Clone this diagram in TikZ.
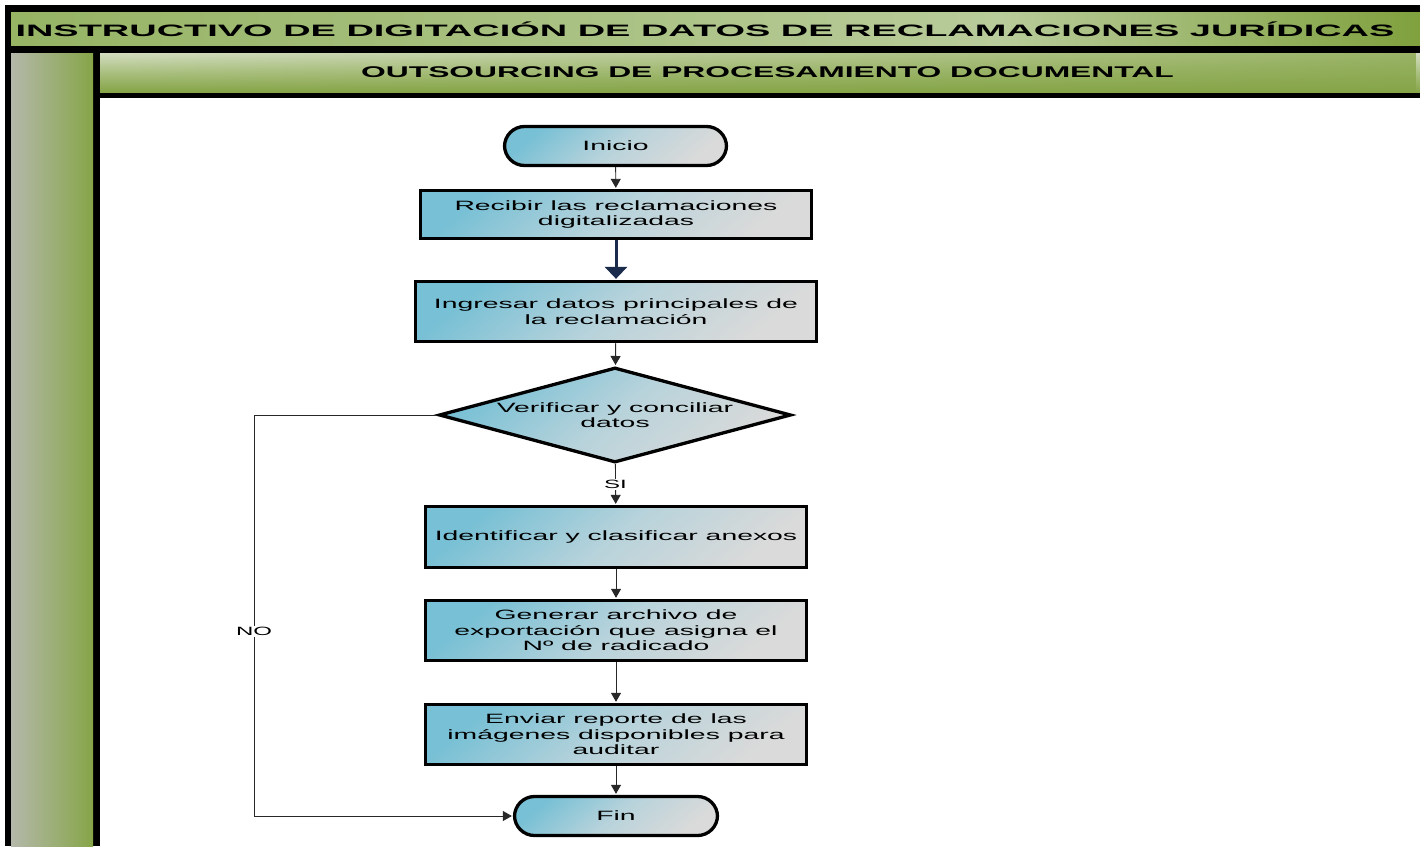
\documentclass[tikz,border=0pt]{standalone}
\usepackage{fontspec}
\setmainfont{Liberation Sans}
\newfontfamily\bodyf[FakeStretch=2.1]{Liberation Sans}
\newfontfamily\titlef[FakeStretch=2.3]{Liberation Sans}
\newfontfamily\subf[FakeStretch=2.05]{Liberation Sans}
\newfontfamily\lblf[FakeStretch=2.0]{Liberation Sans}
\usetikzlibrary{shapes.geometric,arrows.meta,calc,fadings}
\definecolor{gMain}{RGB}{134,165,72}
\definecolor{gTitleL}{RGB}{150,180,100}
\definecolor{gTitleM}{RGB}{184,203,154}
\definecolor{gTitleR}{RGB}{128,161,62}
\definecolor{gSubL}{RGB}{212,221,193}
\definecolor{gSubM}{RGB}{170,192,128}
\definecolor{gCol}{RGB}{180,184,170}
\definecolor{bluC}{RGB}{120,192,213}
\definecolor{bluM}{RGB}{184,211,219}
\definecolor{greyC}{RGB}{218,218,218}
\definecolor{navy}{RGB}{26,43,76}
\definecolor{lineC}{RGB}{40,40,40}
\tikzset{
  procbox/.style={draw=black, line width=3.3pt, top color=bluC, bottom color=greyC, shading angle=40, middle color=bluM,
    inner sep=0pt, align=center, font=\bodyf\fontsize{13.5}{15.5}\selectfont},
  termbox/.style={procbox, rounded corners=20pt},
  decbox/.style={draw=black, line width=3.3pt, diamond, shape aspect=3.7, top color=bluC, bottom color=greyC, shading angle=40, middle color=bluM,
    inner sep=0pt, align=center, font=\bodyf\fontsize{13.5}{15.5}\selectfont},
  conn/.style={draw=lineC, line width=0.9pt, -{Triangle[width=10pt,length=9pt]}, shorten >=1pt},
  bigconn/.style={draw=navy, line width=3pt, -{Triangle[width=22pt,length=12pt]}, shorten >=1pt},
  lbl/.style={fill=white, inner sep=1.5pt, font=\lblf\fontsize{12}{13}\selectfont},
}
\begin{document}
\begin{tikzpicture}[x=1pt,y=-1pt]
\useasboundingbox (0,0) rectangle (1420,846);
\fill[white] (0,0) rectangle (1420,846);
% frame
\fill[black] (5,5) rectangle (1420,846);
\shade[left color=gTitleL, right color=gTitleM] (11,12) rectangle (1000,45);
\shade[left color=gTitleM, right color=gTitleR] (999.5,12) rectangle (1420,45);
\shade[left color=gCol, right color=gMain] (11,53) rectangle (93,846);
\shade[top color=gSubL, bottom color=gMain, middle color=gSubM] (100,53) rectangle (1420,92);
\fill[gMain, fill opacity=0.75, path fading=west] (100,53) rectangle (1420,92);
\fill[white] (100,98) rectangle (1420,846);
\node[font=\titlef\bfseries\fontsize{16.5}{18}\selectfont, inner sep=0pt] (title) at (705,29) {INSTRUCTIVO DE DIGITACIÓN DE DATOS DE RECLAMACIONES JURÍDICAS};
\node[font=\subf\bfseries\fontsize{15.5}{17}\selectfont, inner sep=0pt] (subtitle) at (767.5,72) {OUTSOURCING DE PROCESAMIENTO DOCUMENTAL};
% nodes
\node[termbox, minimum width=222pt, minimum height=39pt] (inicio) at (615.5,146) {Inicio};
\node[procbox, minimum width=391pt, minimum height=48pt] (recibir) at (616,214.5) {Recibir las reclamaciones\\digitalizadas};
\node[procbox, minimum width=401pt, minimum height=60pt] (ingresar) at (616,311.5) {Ingresar datos principales de\\la reclamación};
\node[decbox, minimum width=352pt, minimum height=95pt] (verif) at (615,415) {Verificar y conciliar\\datos};
\node[procbox, minimum width=381pt, minimum height=61pt] (ident) at (616,537) {Identificar y clasificar anexos};
\node[procbox, minimum width=381pt, minimum height=60pt] (gen) at (616,630.5) {Generar archivo de\\exportación que asigna el\\Nº de radicado};
\node[procbox, minimum width=381pt, minimum height=60pt] (env) at (616,734.5) {Enviar reporte de las\\imágenes disponibles para\\auditar};
\node[termbox, minimum width=203pt, minimum height=39pt] (fin) at (616,816) {Fin};
\coordinate (nw) at (254,415);
\coordinate (sw) at (254,816);
% connectors
\draw[conn] (inicio) -- (recibir);
\draw[bigconn] (recibir) -- (ingresar);
\draw[conn] (ingresar) -- (verif);
\draw[conn] (verif) -- node[lbl] {SI} (ident);
\draw[conn] (ident) -- (gen);
\draw[conn] (gen) -- (env);
\draw[conn] (env) -- (fin);
\draw[conn] (verif.west) -- (nw) -- node[lbl, pos=0.54] {NO} (sw) -- (fin.west);
\end{tikzpicture}
\end{document}
